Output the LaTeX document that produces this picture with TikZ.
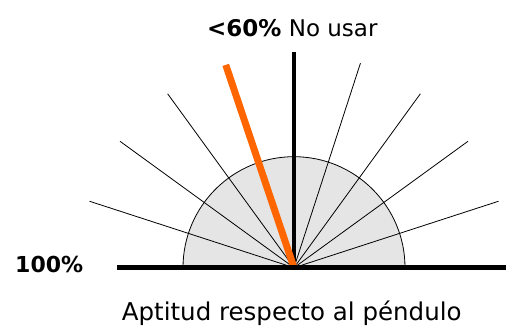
\documentclass[tikz,border=0pt]{standalone}
\usepackage{fontspec}
\setmainfont{DejaVu Sans}
\usetikzlibrary{calc}
\definecolor{pendorange}{HTML}{FF6600}
\definecolor{fangray}{HTML}{E5E5E5}
\begin{document}
\begin{tikzpicture}[x=1pt,y=1pt,
  ray/.style={black,line width=0.8pt},
  lbl/.style={inner sep=0pt,font=\fontsize{23}{27}\selectfont}]
\useasboundingbox (0,0) rectangle (506,328);
\coordinate (c) at (294,60.3);
\fill[fangray,draw=black,line width=0.8pt] ($(c)+(111,0)$) arc (0:180:111) -- cycle;
\foreach \a in {18,36,54,72,126,144,162}
  \draw[ray] (c) -- ++(\a:215);
\draw[black,line width=3.5pt] (c) -- ++(90:216) coordinate (top);
\draw[pendorange,line width=7pt] (c) -- ++(108.6:214) coordinate (pend);
\coordinate (bl) at (117,60.3);
\coordinate (br) at (506,60.3);
\draw[black,line width=5pt] (bl) -- (br);
\node[lbl,anchor=base west] (title) at (207,291.3) {\textbf{<60\%} No usar};
\node[lbl,anchor=base west,font=\fontsize{22}{26}\selectfont\bfseries] (full) at (15,55) {100\%};
\node[lbl,anchor=base west,font=\fontsize{24.5}{28}\selectfont] (cap) at (121.7,7.5) {Aptitud respecto al péndulo};
\end{tikzpicture}
\end{document}
